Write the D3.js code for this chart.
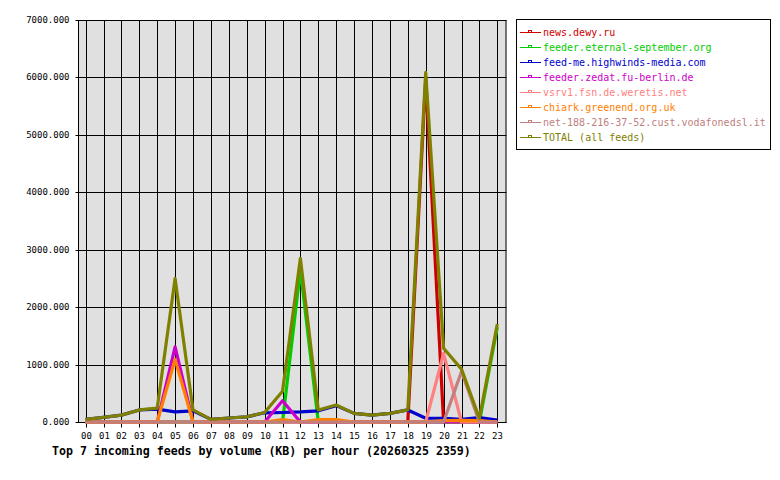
<!DOCTYPE html>
<html>
<head>
<meta charset="utf-8">
<script src="https://cdn.jsdelivr.net/npm/d3@7"></script>
<style>
  body { margin: 0; background: #fff; }
  text { font-family: "DejaVu Sans Mono", "Liberation Mono", monospace; }
</style>
</head>
<body>
<div id="chart"></div>
<script>
// hours of the day
var hours = d3.range(24);
var yTicks = [0, 1000, 2000, 3000, 4000, 5000, 6000, 7000];

// KB per hour, one array per feed
var newsDewy      = [0,0,0,0,0,0,0,0,0,0,0,0,0,0,0,0,0,0,0,5980,0,0,0,0];
var eternalSept   = [0,0,0,0,0,0,0,0,0,0,0,0,2650,0,0,0,0,0,0,0,0,0,0,1650];
var highwinds     = [45,80,120,210,225,175,195,45,70,90,160,165,175,195,285,150,120,150,210,65,65,45,75,35];
var zedat         = [0,0,0,0,0,1310,0,0,0,0,0,370,0,0,0,0,0,0,0,0,0,0,0,0];
var weretis       = [0,0,0,0,0,0,0,0,0,0,0,0,0,0,0,0,0,0,0,0,1195,0,0,0];
var chiark        = [0,0,0,0,0,1090,0,0,0,0,0,40,0,40,40,0,0,0,0,0,25,30,25,0];
var vodafone      = [0,0,0,0,0,0,0,0,0,0,0,0,0,0,0,0,0,0,0,0,0,880,0,0];
var totalFeeds    = [45,80,120,210,240,2500,210,45,70,90,165,535,2850,210,295,150,120,150,210,6090,1283,920,65,1706];

var feedNames = ["news.dewy.ru", "feeder.eternal-september.org", "feed-me.highwinds-media.com",
                 "feeder.zedat.fu-berlin.de", "vsrv1.fsn.de.weretis.net", "chiark.greenend.org.uk",
                 "net-188-216-37-52.cust.vodafonedsl.it", "TOTAL (all feeds)"];
var feedColors = ["#cc0000", "#00cc00", "#0000cc", "#cc00cc", "#ff8080", "#ff8000", "#c08080", "#808000"];
var feedValues = [newsDewy, eternalSept, highwinds, zedat, weretis, chiark, vodafone, totalFeeds];

var svgWidth = 780, svgHeight = 480;
var plot = { left: 78, right: 506.5, top: 20, bottom: 422 };

var svg = d3.select("#chart").append("svg")
    .attr("width", svgWidth)
    .attr("height", svgHeight);

svg.append("rect").attr("width", svgWidth).attr("height", svgHeight).attr("fill", "#fff");

var xScale = d3.scaleLinear().domain([0, 23]).range([85.6, 497.3]);
var yScale = d3.scaleLinear().domain([0, 7000]).range([plot.bottom, plot.top]);

// plot background
svg.append("rect")
    .attr("x", plot.left).attr("y", plot.top)
    .attr("width", plot.right - plot.left).attr("height", plot.bottom - plot.top)
    .attr("fill", "#e0e0e0");

// grid
svg.append("g").selectAll("line").data(hours).enter().append("line")
    .attr("x1", d => Math.round(xScale(d)) + 0.5).attr("x2", d => Math.round(xScale(d)) + 0.5)
    .attr("y1", plot.top).attr("y2", plot.bottom)
    .attr("stroke", "#000").attr("stroke-width", 1);

svg.append("g").selectAll("line").data(yTicks).enter().append("line")
    .attr("x1", plot.left).attr("x2", plot.right)
    .attr("y1", d => Math.round(yScale(d)) + 0.5).attr("y2", d => Math.round(yScale(d)) + 0.5)
    .attr("stroke", "#000").attr("stroke-width", 1);

// axes
var xAxis = d3.axisBottom(xScale).tickValues(hours).tickSize(5).tickPadding(5).tickFormat(d3.format("02d"));
var yAxis = d3.axisLeft(yScale).tickValues(yTicks).tickSize(3).tickPadding(6).tickFormat(d3.format(".3f"));

var gx = svg.append("g")
    .attr("transform", `translate(0.5, ${plot.bottom + 0.5})`)
    .call(xAxis);
gx.select(".domain").remove();
gx.selectAll(".tick").attr("transform", d => `translate(${Math.round(xScale(d))},0)`);

var gy = svg.append("g")
    .attr("transform", `translate(${plot.left + 0.5}, 0.5)`)
    .call(yAxis);
gy.select(".domain").remove();
gy.selectAll(".tick").attr("transform", d => `translate(0,${Math.round(yScale(d))})`);

svg.selectAll(".tick text").attr("font-size", 9).attr("font-family", "DejaVu Sans Mono").attr("fill", "#000");

// frame
svg.append("rect")
    .attr("x", plot.left + 0.5).attr("y", plot.top + 0.5)
    .attr("width", plot.right - plot.left - 1).attr("height", plot.bottom - plot.top)
    .attr("fill", "none").attr("stroke", "#000");

// series lines, total drawn last
var line = d3.line()
    .x((d, i) => xScale(i))
    .y(d => yScale(d));

svg.append("g").selectAll("path").data(feedValues).enter().append("path")
    .attr("d", d => line(d))
    .attr("fill", "none")
    .attr("stroke", (d, i) => feedColors[i])
    .attr("stroke-width", 3.2)
    .attr("stroke-linejoin", "round");

// legend
var legend = svg.append("g");
legend.append("rect")
    .attr("x", 516.5).attr("y", 19.5)
    .attr("width", 254).attr("height", 130)
    .attr("fill", "#fff").attr("stroke", "#000");

var rows = legend.selectAll("g.row").data(feedNames).enter().append("g")
    .attr("class", "row")
    .attr("transform", (d, i) => `translate(0, ${32 + i * 15})`);

rows.append("line")
    .attr("x1", 520).attr("x2", 541).attr("y1", 0.5).attr("y2", 0.5)
    .attr("stroke", (d, i) => feedColors[i]);
rows.append("rect")
    .attr("x", 528.5).attr("y", -1.5).attr("width", 3).attr("height", 2)
    .attr("fill", "none")
    .attr("stroke", (d, i) => feedColors[i]);
rows.append("text")
    .attr("x", 543).attr("y", 3.5)
    .attr("font-size", 10)
    .attr("fill", (d, i) => feedColors[i])
    .text(d => d);

// title
svg.append("text")
    .attr("x", 52).attr("y", 455)
    .attr("font-size", 11.6)
    .attr("font-weight", "bold")
    .attr("fill", "#000")
    .text("Top 7 incoming feeds by volume (KB) per hour (20260325 2359)");
</script>
</body>
</html>
